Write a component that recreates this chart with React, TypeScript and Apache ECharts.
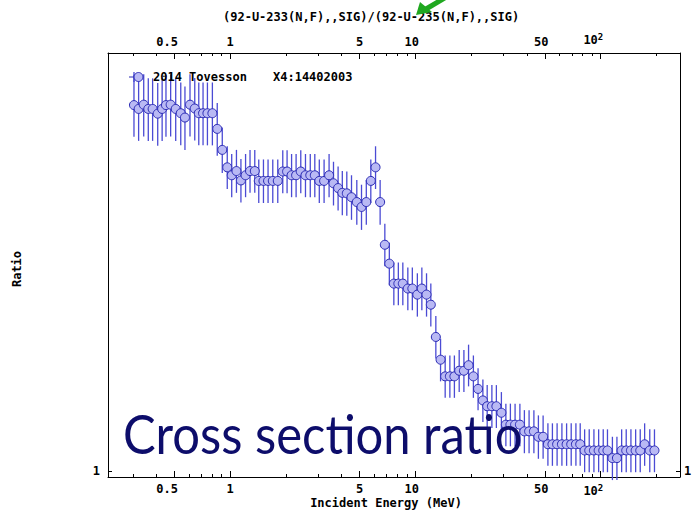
import React, { useEffect, useRef } from 'react';
import * as echarts from 'echarts';

// Incident energy (MeV) of each measured point
const energy = [
  0.303, 0.321, 0.342, 0.362, 0.382, 0.407, 0.430, 0.451, 0.478, 0.509,
  0.542, 0.571, 0.608, 0.645, 0.678, 0.715, 0.755, 0.803, 0.853, 0.908,
  0.966, 1.021, 1.083, 1.145, 1.213, 1.282, 1.360, 1.429, 1.515, 1.604,
  1.701, 1.810, 1.926, 2.032, 2.149, 2.273, 2.409, 2.554, 2.711, 2.868,
  3.033, 3.219, 3.425, 3.618, 3.831, 4.037, 4.269, 4.526, 4.834, 5.125,
  5.440, 5.753, 6.102, 6.460, 6.849, 7.243, 7.660, 8.100, 8.565, 9.115,
  9.640, 10.26, 10.85, 11.50, 12.13, 12.91, 13.69, 14.50, 15.37, 16.26,
  17.26, 18.30, 19.39, 20.59, 21.82, 23.17, 24.44, 25.91, 27.40, 29.16,
  30.83, 32.61, 34.57, 36.70, 38.81, 41.14, 43.68, 46.19, 48.98, 51.99,
  54.98, 58.28, 61.87, 65.59, 69.45, 73.63, 77.67, 82.05, 86.88, 92.11,
  97.67, 103.4, 109.0, 115.9, 122.6, 130.0, 137.6, 145.9, 154.7, 163.8,
  173.0, 184.4, 195.5,
];

// 233U(n,f) / 235U(n,f) cross section ratio
const ratio = [
  1.673, 1.664, 1.674, 1.664, 1.664, 1.653, 1.664, 1.673, 1.674, 1.664,
  1.654, 1.644, 1.674, 1.665, 1.654, 1.654, 1.654, 1.654, 1.618, 1.571,
  1.533, 1.516, 1.525, 1.505, 1.516, 1.525, 1.525, 1.504, 1.504, 1.504,
  1.504, 1.504, 1.524, 1.524, 1.516, 1.516, 1.524, 1.516, 1.516, 1.516,
  1.504, 1.504, 1.516, 1.499, 1.489, 1.479, 1.478, 1.470, 1.460, 1.450,
  1.460, 1.504, 1.533, 1.460, 1.375, 1.339, 1.302, 1.302, 1.302, 1.293,
  1.293, 1.282, 1.293, 1.282, 1.264, 1.208, 1.170, 1.143, 1.143, 1.143,
  1.152, 1.152, 1.161, 1.143, 1.123, 1.105, 1.096, 1.096, 1.096, 1.086,
  1.068, 1.068, 1.068, 1.068, 1.058, 1.058, 1.058, 1.050, 1.050, 1.039,
  1.039, 1.039, 1.039, 1.039, 1.039, 1.039, 1.039, 1.030, 1.030, 1.030,
  1.030, 1.030, 1.030, 1.019, 1.019, 1.030, 1.030, 1.030, 1.030, 1.030,
  1.039, 1.030, 1.030,
];

// Uncertainty of each ratio value
const ratioErr = [
  0.073, 0.073, 0.073, 0.073, 0.073, 0.073, 0.073, 0.073, 0.073, 0.073,
  0.073, 0.073, 0.073, 0.073, 0.073, 0.073, 0.073, 0.073, 0.060, 0.050,
  0.046, 0.046, 0.046, 0.046, 0.046, 0.046, 0.046, 0.046, 0.046, 0.046,
  0.046, 0.046, 0.046, 0.046, 0.046, 0.046, 0.046, 0.046, 0.046, 0.046,
  0.046, 0.046, 0.046, 0.046, 0.046, 0.046, 0.046, 0.046, 0.046, 0.046,
  0.046, 0.046, 0.046, 0.046, 0.041, 0.040, 0.039, 0.039, 0.039, 0.039,
  0.039, 0.039, 0.039, 0.039, 0.038, 0.036, 0.035, 0.034, 0.034, 0.034,
  0.034, 0.034, 0.034, 0.034, 0.033, 0.033, 0.033, 0.033, 0.033, 0.032,
  0.032, 0.032, 0.032, 0.032, 0.032, 0.032, 0.032, 0.032, 0.032, 0.031,
  0.031, 0.031, 0.031, 0.031, 0.031, 0.031, 0.031, 0.031, 0.031, 0.031,
  0.031, 0.031, 0.031, 0.031, 0.031, 0.031, 0.031, 0.031, 0.031, 0.031,
  0.031, 0.031, 0.031,
];

// Axis ranges and ticks
const X_MIN = 0.2194;
const X_MAX = 268.5;
const Y_MIN = 0.9923;
const Y_MAX = 1.8;
const xMajorTicks = [0.5, 1, 5, 10, 50, 100];
const xTickLabels = ['0.5', '1', '5', '10', '50', '10²'];
const xMinorTicks = [0.3, 0.4, 0.6, 0.7, 0.8, 0.9, 2, 3, 4, 6, 7, 8, 9, 20, 30, 40, 60, 70, 80, 90, 200];
const yTicks = [1];
const yTickLabels = ['1'];

const TITLE = '(92-U-233(N,F),,SIG)/(92-U-235(N,F),,SIG)';
const LEGEND_NAME = '2014 Tovesson';
const LEGEND_ID = 'X4:14402003';
const X_NAME = 'Incident Energy (MeV)';
const Y_NAME = 'Ratio';
const BANNER = 'Cross section ratio';

const MONO = '"DejaVu Sans Mono", "Liberation Mono", monospace';
const NBSP = '\u00a0';
const MARK_FILL = '#b9b9f4';
const MARK_EDGE = '#2a2ab4';
const BAR_COLOR = '#4b4bd4';

const lg = (v: number) => Math.log10(v);

// Labels are set so that their last digit sits on the tick
function xLabel(v: number): string {
  for (let i = 0; i < xMajorTicks.length; i++) {
    if (Math.abs(lg(xMajorTicks[i]) - v) < 1e-6) {
      const s = xTickLabels[i];
      if (s.endsWith('²')) {
        const base = s.slice(0, -1);
        return `{m|${base}}{e|2}{m|${NBSP.repeat(base.length)}}`;
      }
      return s + NBSP.repeat(s.length - 1);
    }
  }
  return '';
}

function yLabel(v: number): string {
  for (let i = 0; i < yTicks.length; i++) {
    if (Math.abs(lg(yTicks[i]) - v) < 1e-6) return yTickLabels[i];
  }
  return '';
}

const labelFont = {
  fontFamily: MONO,
  fontSize: 12,
  fontWeight: 'bold' as const,
  color: '#000',
};

const richLabel = {
  m: { ...labelFont },
  e: { ...labelFont, fontSize: 9, padding: [0, 0, 7, 0] },
};

const frameLine = { show: true, onZero: false, lineStyle: { color: '#000', width: 1 } };
const noLine = { show: false, onZero: false };

function xTickAxis(position: 'top' | 'bottom', major: boolean, showLine: boolean) {
  return {
    type: 'value',
    position,
    min: lg(X_MIN),
    max: lg(X_MAX),
    axisLine: showLine ? frameLine : noLine,
    splitLine: { show: false },
    axisTick: {
      show: true,
      inside: true,
      length: major ? 6 : 3,
      customValues: (major ? xMajorTicks : xMinorTicks).map(lg),
      lineStyle: { color: '#000', width: 1 },
    },
    axisLabel: major
      ? {
          show: true,
          customValues: xMajorTicks.map(lg),
          formatter: (v: number) => xLabel(v),
          margin: position === 'bottom' ? 6 : 5,
          ...labelFont,
          rich: richLabel,
        }
      : { show: false },
  };
}

function yTickAxis(position: 'left' | 'right', showLine: boolean, margin: number, extra: any = {}) {
  return {
    type: 'value',
    position,
    min: lg(Y_MIN),
    max: lg(Y_MAX),
    axisLine: showLine ? frameLine : noLine,
    splitLine: { show: false },
    axisTick: {
      show: true,
      inside: true,
      length: 4,
      customValues: yTicks.map(lg),
      lineStyle: { color: '#000' },
    },
    axisLabel: {
      show: true,
      customValues: yTicks.map(lg),
      formatter: (v: number) => yLabel(v),
      margin,
      ...labelFont,
    },
    ...extra,
  };
}

export default function App() {
  const ref = useRef<HTMLDivElement>(null);

  useEffect(() => {
    if (!ref.current) return;
    const chart = echarts.init(ref.current, null, { renderer: 'svg' });

    const points = energy.map((e, i) => [e, ratio[i]]);
    const bars = energy.map((e, i) => [e, ratio[i] - ratioErr[i], ratio[i] + ratioErr[i]]);

    const option: any = {
      animation: false,
      backgroundColor: '#fff',
      title: {
        text: TITLE,
        left: 223,
        top: 11,
        padding: 0,
        textStyle: { ...labelFont, fontSize: 12 },
      },
      grid: {
        left: 108,
        right: 13,
        top: 53,
        bottom: 34,
        containLabel: false,
        outerBoundsMode: 'none',
      },
      xAxis: [
        {
          type: 'log',
          logBase: 10,
          position: 'bottom',
          min: X_MIN,
          max: X_MAX,
          axisLine: frameLine,
          axisTick: { show: false },
          axisLabel: { show: false },
          splitLine: { show: false },
        },
        xTickAxis('bottom', true, false),
        xTickAxis('bottom', false, false),
        xTickAxis('top', true, true),
        xTickAxis('top', false, false),
      ],
      yAxis: [
        {
          type: 'log',
          logBase: 10,
          position: 'left',
          min: Y_MIN,
          max: Y_MAX,
          axisLine: frameLine,
          axisTick: { show: false },
          axisLabel: { show: false },
          splitLine: { show: false },
        },
        yTickAxis('left', false, 8, {
          name: Y_NAME,
          nameLocation: 'middle',
          nameRotate: 90,
          nameGap: 85,
          nameTextStyle: { ...labelFont, padding: [0, 8, 0, 0] },
        }),
        yTickAxis('right', true, 4),
      ],
      series: [
        {
          type: 'custom',
          xAxisIndex: 0,
          yAxisIndex: 0,
          data: bars,
          encode: { x: 0, y: [1, 2] },
          z: 2,
          renderItem: (_params: any, api: any) => {
            const x = api.value(0);
            const lo = api.coord([x, api.value(1)]);
            const hi = api.coord([x, api.value(2)]);
            return {
              type: 'line',
              shape: { x1: lo[0], y1: lo[1], x2: hi[0], y2: hi[1] },
              style: { stroke: BAR_COLOR, lineWidth: 1.3 },
            };
          },
        },
        {
          type: 'scatter',
          xAxisIndex: 0,
          yAxisIndex: 0,
          data: points,
          symbol: 'circle',
          symbolSize: 9,
          z: 3,
          itemStyle: { color: MARK_FILL, borderColor: MARK_EDGE, borderWidth: 1, opacity: 1 },
        },
      ],
      graphic: [
        // x axis title
        {
          type: 'text', x: 386, y: 503, z: 10,
          style: { text: X_NAME, font: `bold 12px ${MONO}`, fill: '#000', verticalAlign: 'middle', align: 'center' },
        },
        // legend entry
        { type: 'line', shape: { x1: 129, y1: 77, x2: 139, y2: 77 }, style: { stroke: MARK_EDGE, lineWidth: 1 }, z: 10 },
        { type: 'line', shape: { x1: 134, y1: 72, x2: 134, y2: 82 }, style: { stroke: BAR_COLOR, lineWidth: 1.3 }, z: 10 },
        { type: 'circle', shape: { cx: 138.5, cy: 77, r: 4.5 }, style: { fill: MARK_FILL, stroke: MARK_EDGE, lineWidth: 1 }, z: 11 },
        {
          type: 'text', x: 153, y: 77, z: 10,
          style: { text: LEGEND_NAME, font: `bold 12px ${MONO}`, fill: '#000', verticalAlign: 'middle', align: 'left' },
        },
        {
          type: 'text', x: 273, y: 77, z: 10,
          style: { text: LEGEND_ID, font: `bold 12px ${MONO}`, fill: '#000', verticalAlign: 'middle', align: 'left' },
        },
        // caption
        {
          type: 'text', x: 123, y: 433, z: 20, scaleX: 0.89, scaleY: 1,
          style: { text: BANNER, font: '55px Lato, "Liberation Sans", sans-serif', fill: '#0d0d6b', verticalAlign: 'middle', align: 'left' },
        },
        // green pointer
        { type: 'line', shape: { x1: 426, y1: 9, x2: 448, y2: -4 }, style: { stroke: '#20a820', lineWidth: 5 }, z: 30 },
        { type: 'polygon', shape: { points: [[416, 15], [420, 2], [432, 12]] }, style: { fill: '#20a820' }, z: 30 },
      ],
    };

    chart.setOption(option);
    return () => chart.dispose();
  }, []);

  return (
    <div
      ref={ref}
      style={{ position: 'fixed', left: 0, top: 0, width: 693, height: 511, background: '#fff' }}
    />
  );
}
